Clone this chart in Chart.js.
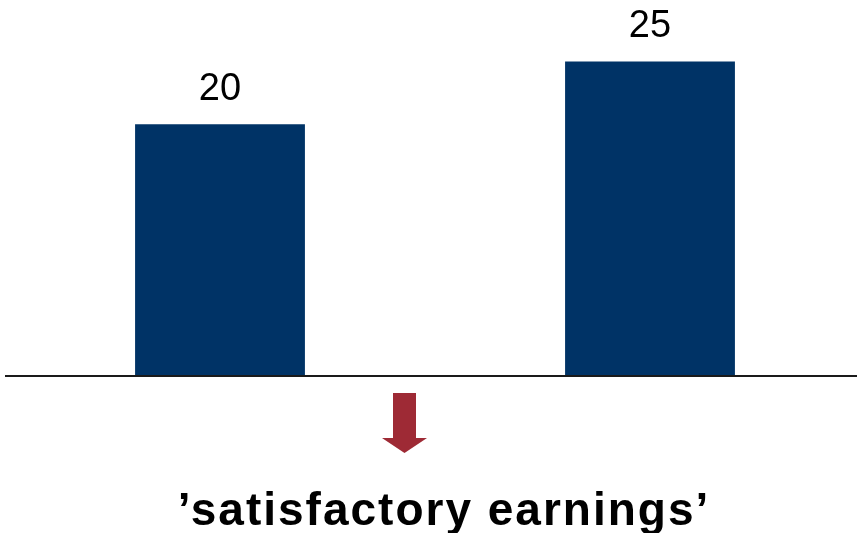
<!DOCTYPE html>
<html>
<head>
<meta charset="utf-8">
<script src="https://cdn.jsdelivr.net/npm/chart.js@4.4.0/dist/chart.umd.min.js"></script>
<style>
  html, body { margin: 0; padding: 0; background: #fff; overflow: hidden; }
  #wrap { width: 857px; height: 533px; overflow: hidden; }
</style>
</head>
<body>
<div id="wrap"><canvas id="chart" width="870" height="533"></canvas></div>
<script>
// chart data
const categories = ['A', 'B'];
const values = [20, 25];
const caption = '\u2019satisfactory earnings\u2019';

// value labels above bars, baseline, arrow and caption
const extras = {
  id: 'extras',
  afterDatasetsDraw(chart) {
    const ctx = chart.ctx;
    const area = chart.chartArea;
    const y = chart.scales.y;
    const meta = chart.getDatasetMeta(0);
    ctx.save();

    // baseline
    ctx.fillStyle = '#1a1a1a';
    ctx.fillRect(area.left, y.getPixelForValue(0), area.right - area.left, 2);

    // value labels
    ctx.fillStyle = '#000';
    ctx.font = '38px "Liberation Sans", Arial, sans-serif';
    ctx.textAlign = 'center';
    ctx.textBaseline = 'alphabetic';
    meta.data.forEach((bar, i) => {
      ctx.fillText(String(values[i]), bar.x, bar.y - 24);
    });

    // red arrow
    ctx.fillStyle = '#9e2a35';
    ctx.beginPath();
    ctx.moveTo(393, 393);
    ctx.lineTo(416, 393);
    ctx.lineTo(416, 438);
    ctx.lineTo(427, 438);
    ctx.lineTo(404.5, 453);
    ctx.lineTo(382, 438);
    ctx.lineTo(393, 438);
    ctx.closePath();
    ctx.fill();

    // caption
    ctx.fillStyle = '#000';
    ctx.font = 'bold 46px "Liberation Sans", Arial, sans-serif';
    ctx.letterSpacing = '2px';
    ctx.fillText(caption, 444, 525);
    ctx.restore();
  }
};

new Chart(document.getElementById('chart').getContext('2d'), {
  type: 'bar',
  data: {
    labels: categories,
    datasets: [{
      data: values,
      backgroundColor: '#003366',
      borderWidth: 0,
      barPercentage: 0.395,
      categoryPercentage: 1
    }]
  },
  options: {
    responsive: false,
    animation: false,
    layout: { padding: { left: 5, right: 5, top: 0, bottom: 158 } },
    plugins: { legend: { display: false }, tooltip: { enabled: false } },
    scales: {
      x: { display: false },
      y: { display: false, min: 0, max: 29.9 }
    }
  },
  plugins: [extras]
});
</script>
</body>
</html>
